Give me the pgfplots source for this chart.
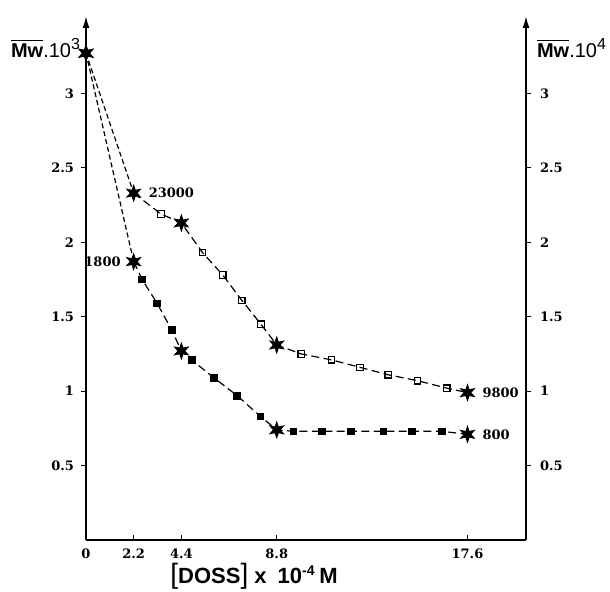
\documentclass[border=0pt]{standalone}
\usepackage{fontspec}
\setmainfont{DejaVu Serif}
\setsansfont{Liberation Sans}
\usepackage{pgfplots}
\usepackage{pgfplotstable}
\pgfplotsset{compat=1.18}
\usetikzlibrary{arrows.meta}

% filled six-pointed star mark
\pgfdeclareplotmark{sixstar}{%
  \pgfpathmoveto{\pgfpointpolar{90}{\pgfplotmarksize}}%
  \pgfpathlineto{\pgfpointpolar{120}{0.42\pgfplotmarksize}}%
  \pgfpathlineto{\pgfpointpolar{150}{\pgfplotmarksize}}%
  \pgfpathlineto{\pgfpointpolar{180}{0.42\pgfplotmarksize}}%
  \pgfpathlineto{\pgfpointpolar{210}{\pgfplotmarksize}}%
  \pgfpathlineto{\pgfpointpolar{240}{0.42\pgfplotmarksize}}%
  \pgfpathlineto{\pgfpointpolar{270}{\pgfplotmarksize}}%
  \pgfpathlineto{\pgfpointpolar{300}{0.42\pgfplotmarksize}}%
  \pgfpathlineto{\pgfpointpolar{330}{\pgfplotmarksize}}%
  \pgfpathlineto{\pgfpointpolar{0}{0.42\pgfplotmarksize}}%
  \pgfpathlineto{\pgfpointpolar{30}{\pgfplotmarksize}}%
  \pgfpathlineto{\pgfpointpolar{60}{0.42\pgfplotmarksize}}%
  \pgfpathclose
  \pgfusepathqfillstroke
}

% x = [DOSS] (10^-4 M), y = Mw, c = t (star) or s (square)
\pgfplotstableread{
x     y     c
0     3.27  t
2.2   2.33  t
3.46  2.19  s
4.4   2.13  t
5.38  1.93  s
6.31  1.78  s
7.19  1.61  s
8.07  1.45  s
8.8   1.31  t
9.93  1.25  s
11.33 1.21  s
12.64 1.16  s
13.94 1.11  s
15.30 1.07  s
16.65 1.02  s
17.6  0.99  t
}\uppertab

\pgfplotstableread{
x     y     c
0     3.27  t
2.2   1.87  t
2.59  1.75  s
3.28  1.59  s
3.96  1.41  s
4.4   1.27  t
4.87  1.21  s
5.90  1.09  s
6.97  0.97  s
8.05  0.83  s
8.8   0.74  t
9.57  0.73  s
10.88 0.73  s
12.23 0.73  s
13.72 0.73  s
15.03 0.73  s
16.43 0.73  s
17.6  0.71  t
}\lowertab

\pgfplotsset{
  base/.style={
    at={(0,0)}, anchor=origin,
    scale only axis, width=220pt, height=262pt,
    xmin=0, xmax=20.3, ymin=0, ymax=3.52,
    clip=false,
    axis line style={line width=0.8pt},
    major tick length=2.5pt,
    tick style={line width=0.6pt, black},
    tick label style={font=\bfseries\fontsize{6.5}{7}\selectfont},
  },
}

\begin{document}
\begin{tikzpicture}
% x axis and data
\begin{axis}[base,
  axis x line*=bottom, axis y line=none,
  tick align=inside,
  xtick={0,2.2,4.4,8.8,17.6},
  xticklabels={0,2.2,4.4,8.8,17.6},
  x tick label style={yshift=-1pt},
]
  \addplot[line width=0.6pt, dash pattern=on 2.5pt off 1.5pt,
    skip coords between index={2}{100}] table[x=x,y=y]{\uppertab};
  \addplot[line width=0.6pt, dash pattern=on 2.5pt off 1.5pt,
    skip coords between index={2}{100}] table[x=x,y=y]{\lowertab};
  \addplot[line width=0.6pt, dash pattern=on 4pt off 2.2pt,
    skip coords between index={0}{1}] table[x=x,y=y]{\uppertab};
  \addplot[line width=0.6pt, dash pattern=on 4pt off 2.2pt,
    skip coords between index={0}{1}] table[x=x,y=y]{\lowertab};
  \addplot[scatter, only marks, point meta=explicit symbolic,
    scatter/classes={
      s={mark=square, mark size=1.6pt, fill=white, draw=black, line width=0.6pt},
      t={mark=sixstar, mark size=4pt, fill=black, draw=black}}]
    table[x=x,y=y,meta=c]{\uppertab};
  \addplot[scatter, only marks, point meta=explicit symbolic,
    scatter/classes={
      s={mark=square*, mark size=1.7pt, fill=black, draw=black},
      t={mark=sixstar, mark size=4pt, fill=black, draw=black}}]
    table[x=x,y=y,meta=c]{\lowertab};
  \node[anchor=west, font=\bfseries\fontsize{6.5}{7}\selectfont] at (axis cs:2.2,2.33) [xshift=4pt] {23000};
  \node[anchor=east, font=\bfseries\fontsize{6.5}{7}\selectfont] at (axis cs:2.2,1.87) [xshift=-3pt] {1800};
  \node[anchor=west, font=\bfseries\fontsize{6.5}{7}\selectfont] at (axis cs:17.6,0.99) [xshift=4pt] {9800};
  \node[anchor=west, font=\bfseries\fontsize{6.5}{7}\selectfont] at (axis cs:17.6,0.71) [xshift=4pt] {800};
\end{axis}
% left y axis
\begin{axis}[base,
  axis x line=none, axis y line*=left,
  y axis line style={-{Latex[length=6pt,width=3.5pt]}},
  tick align=outside,
  ytick={0.5,1,1.5,2,2.5,3},
  yticklabels={0.5,1,1.5,2,2.5,3},
  y tick label style={anchor=east},
]
\end{axis}
% right y axis
\begin{axis}[base,
  axis x line=none, axis y line*=right,
  y axis line style={-{Latex[length=6pt,width=3.5pt]}},
  tick align=outside,
  ytick={0.5,1,1.5,2,2.5,3},
  yticklabels={0.5,1,1.5,2,2.5,3},
  y tick label style={xshift=1pt},
]
\end{axis}
\node[font=\fontsize{10}{10}\selectfont] at (-20pt,246pt)
  {$\overline{\hbox{\sffamily\bfseries Mw}}$\sffamily.10$^{\hbox{\sffamily\fontsize{8}{8}\selectfont 3}}$};
\node[font=\fontsize{10}{10}\selectfont] at (243pt,246pt)
  {$\overline{\hbox{\sffamily\bfseries Mw}}$\sffamily.10$^{\hbox{\sffamily\fontsize{8}{8}\selectfont 4}}$};
\node[font=\sffamily\bfseries\fontsize{11}{12}\selectfont, anchor=base] at (84pt,-21.5pt)
  {{\fontsize{14}{14}\selectfont\mdseries[}DOSS{\fontsize{14}{14}\selectfont\mdseries]} x\enspace 10$^{\hbox{\sffamily\bfseries\fontsize{7}{7}\selectfont -4}}$\,M};
\pgfresetboundingbox
\path (-43pt,-25.5pt) rectangle (262pt,270pt);
\end{tikzpicture}
\end{document}
